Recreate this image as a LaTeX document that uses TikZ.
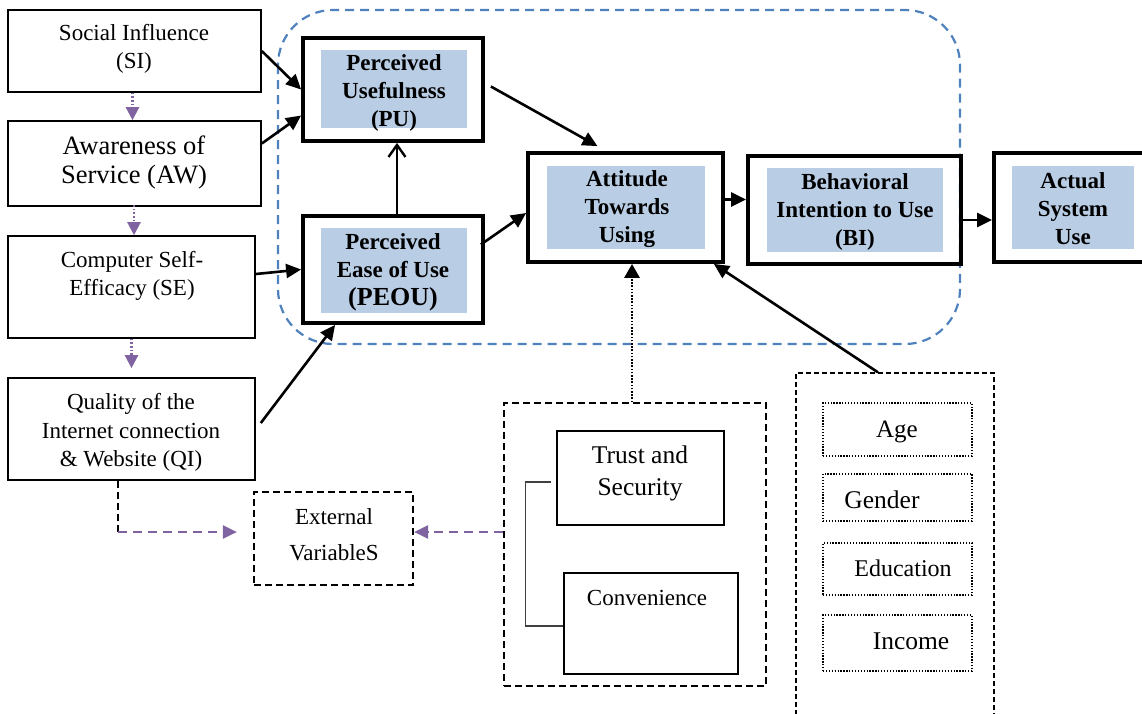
\documentclass[tikz,border=0pt]{standalone}
\usepackage{fontspec}
\setmainfont{Liberation Serif}
\usetikzlibrary{arrows.meta}
\definecolor{purp}{HTML}{8064A2}
\definecolor{dblue}{HTML}{4F81BD}
\definecolor{lblue}{HTML}{B9CDE5}
\definecolor{brk}{HTML}{404040}
\begin{document}
\begin{tikzpicture}[x=1pt,y=-1pt,
 thinbox/.style={draw, line width=1.6pt, inner sep=0pt},
 thickbox/.style={draw, line width=3.8pt, inner sep=0pt},
 fillbox/.style={fill=lblue, inner sep=0pt},
 dashbox/.style={draw, line width=2.2pt, dash pattern=on 7pt off 4pt, inner sep=0pt},
 thindash/.style={draw, line width=1.3pt, dash pattern=on 5pt off 3pt, inner sep=0pt},
 dotbox/.style={draw, line width=1.5pt, dash pattern=on 1.3pt off 1.6pt, inner sep=0pt},
 txt/.style={align=center, inner sep=0pt, font=\fontsize{23}{28.5}\selectfont},
 btxt/.style={align=center, inner sep=0pt, font=\fontsize{23}{28}\selectfont\bfseries},
 arr/.style={line width=2.6pt, -{Triangle[length=15pt,width=14pt]}},
 openarr/.style={line width=2.4pt, -{Straight Barb[length=12pt,width=17pt,line width=2.4pt]}},
 parr/.style={purp, line width=2.3pt, dash pattern=on 1.6pt off 2pt, -{Triangle[length=13pt,width=13pt]}},
 pdash/.style={purp, line width=2.4pt, dash pattern=on 9pt off 6pt, -{Triangle[length=14pt,width=13pt]}},
 darr/.style={line width=2.8pt, dash pattern=on 1.6pt off 1.6pt, -{Triangle[length=14pt,width=15pt]}}
]
\useasboundingbox (0,0) rectangle (1142,713);
\clip (0,0) rectangle (1142,713);

% frame
\draw[dblue, line width=2.2pt, dash pattern=on 9pt off 6pt, rounded corners=55pt] (278,10) rectangle (960,344);

% left boxes
\node[thinbox, minimum width=253pt, minimum height=82pt] (SI) at (134.5,51) {};
\node[txt] (SIt) at (134,49) {Social Influence\\(SI)};
\node[thinbox, minimum width=253pt, minimum height=85pt] (AW) at (134.5,163.5) {};
\node[txt, font=\fontsize{26.5}{29}\selectfont] (AWt) at (134,162.5) {Awareness of\\Service (AW)};
\node[thinbox, minimum width=247pt, minimum height=102pt] (SE) at (131.5,287) {};
\node[txt] (SEt) at (132,276) {Computer Self-\\Efficacy (SE)};
\node[thinbox, minimum width=247pt, minimum height=102pt] (QI) at (131.5,429) {};
\node[txt] (QIt) at (131,432.5) {Quality of the\\Internet connection\\\& Website (QI)};

% TAM boxes
\node[thickbox, minimum width=180pt, minimum height=103pt] (PU) at (393,89.5) {};
\node[fillbox, minimum width=146pt, minimum height=78pt] (PUf) at (394,89) {};
\node[btxt] (PUt) at (394,92.5) {Perceived\\Usefulness\\(PU)};

\node[thickbox, minimum width=180pt, minimum height=107pt] (PEOU) at (393,269.5) {};
\node[fillbox, minimum width=146pt, minimum height=85pt] (PEOUf) at (394,270.5) {};
\node[btxt] (PEOUt) at (393,272) {Perceived\\Ease of Use\\{\fontsize{26}{28}\selectfont(PEOU)}};

\node[thickbox, minimum width=195pt, minimum height=109pt] (Att) at (625.5,207.5) {};
\node[fillbox, minimum width=158pt, minimum height=83pt] (Attf) at (626,207.5) {};
\node[btxt] (Attt) at (627,209.5) {Attitude\\Towards\\Using};

\node[thickbox, minimum width=213pt, minimum height=108pt] (BI) at (854.5,210) {};
\node[fillbox, minimum width=176pt, minimum height=84pt] (BIf) at (855,210) {};
\node[btxt] (BIt) at (855,212) {Behavioral\\Intention to Use\\(BI)};

\node[thickbox, minimum width=156pt, minimum height=109pt] (Act) at (1072,207.5) {};
\node[fillbox, minimum width=122pt, minimum height=83pt] (Actf) at (1073,207.5) {};
\node[btxt] (Actt) at (1073,209) {Actual\\System\\Use};

% external variables
\node[dashbox, minimum width=159pt, minimum height=93pt] (Ext) at (333.5,538.5) {};
\node[txt, font=\fontsize{23}{36}\selectfont] (Extt) at (334,535) {External\\VariableS};

% trust group
\node[draw, inner sep=0pt, line width=1.8pt, dash pattern=on 7pt off 4pt, minimum width=262pt, minimum height=283pt] (TG) at (635,544.5) {};
\node[thinbox, line width=1.4pt, minimum width=167pt, minimum height=94pt] (Trust) at (640.5,478) {};
\node[txt, font=\fontsize{25.5}{32}\selectfont] (Trustt) at (640,473) {Trust and\\Security};
\node[thinbox, line width=1.4pt, minimum width=174pt, minimum height=101pt] (Conv) at (651,623.5) {};
\node[txt] (Convt) at (647,598) {Convenience};

% demographics
\node[thindash, minimum width=198pt, minimum height=347pt] (Demo) at (895,546.5) {};
\node[dotbox, minimum width=149pt, minimum height=53pt] (Age) at (897.5,429.5) {};
\node[txt, font=\fontsize{25}{28}\selectfont] (Aget) at (897,432) {Age};
\node[dotbox, minimum width=149pt, minimum height=47pt] (Gen) at (897.5,497.5) {};
\node[txt, font=\fontsize{25.5}{28}\selectfont] (Gent) at (882,500) {Gender};
\node[dotbox, minimum width=149pt, minimum height=52pt] (Edu) at (897.5,569) {};
\node[txt, font=\fontsize{24}{28}\selectfont] (Edut) at (903,568) {Education};
\node[dotbox, minimum width=149pt, minimum height=56pt] (Inc) at (897.5,643) {};
\node[txt, font=\fontsize{25.5}{28}\selectfont] (Inct) at (911,641) {Income};

% purple dotted arrows
\draw[parr] ([xshift=-2pt]SI.south) -- ([xshift=-2pt]AW.north);
\draw[parr] (SE.north -| SIt.south) ++(0,-30) -- (SE.north -| SIt.south);
\draw[parr, shorten >=9pt] (SE.south) -- (SE.south |- QI.north);

% black arrows into PU / PEOU
\draw[arr] (SI.east) -- (PU.west);
\draw[arr] ([yshift=20pt]AW.east) -- ([yshift=-26pt]PU.west);
\draw[arr] ([yshift=13pt]SE.east) -- (PEOU.west);
\draw[arr] ([xshift=5pt,yshift=6pt]QI.east) -- ([xshift=34pt]PEOU.south west);
\draw[openarr] ([xshift=4pt]PEOU.north) -- ([xshift=4pt]PU.south);

% into attitude
\draw[arr] ([xshift=6pt,yshift=3pt]PU.east) -- ([xshift=-28pt,yshift=5pt]Att.north);
\draw[arr] ([xshift=-4pt,yshift=25pt]PEOU.east) -- ([yshift=-5.5pt]Att.west);
\coordinate (a1) at ([yshift=8pt]Att.east);
\draw[arr] (a1) -- (a1 -| BI.west);
\coordinate (b1) at ([yshift=-10pt]BI.east);
\draw[arr] (b1) -- (b1 -| Act.west);

% from trust group and demographics
\coordinate (tg1) at ([xshift=-3pt]TG.north);
\draw[darr] (tg1) -- (tg1 |- Att.south);
\draw[arr] ([xshift=-17pt]Demo.north) -- ([xshift=-11pt]Att.south east);

% bracket
\draw[brk, line width=1.3pt] ([xshift=-5pt,yshift=-4pt]Trust.west) -- ++(-26,0) |- ([yshift=-2.5pt]Conv.west);

% external variable links
\coordinate (q1) at ([xshift=-13.5pt]QI.south);
\coordinate (q2) at (q1 |- 0,532);
\draw[line width=2.2pt, dash pattern=on 7pt off 4pt] (q1) -- (q2);
\draw[pdash, shorten >=16pt] (q2) -- (q2 -| Ext.west);
\coordinate (t1) at (TG.west |- 0,532);
\draw[pdash] (t1) -- (t1 -| Ext.east);
\end{tikzpicture}
\end{document}
